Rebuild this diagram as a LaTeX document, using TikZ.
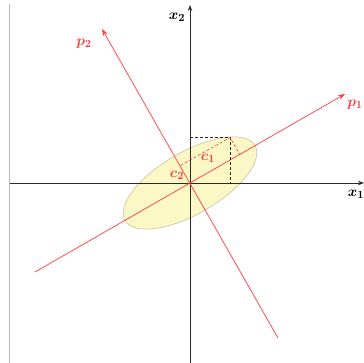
\documentclass[tikz,border=0pt]{standalone}
\usepackage{amsmath,bm}
\usetikzlibrary{arrows.meta}
\definecolor{pred}{HTML}{FF3B3B}
\definecolor{ellfill}{HTML}{FBF8C6}
\definecolor{elldraw}{HTML}{C9C49A}
\definecolor{axisc}{HTML}{2A2A2A}
\begin{document}
\begin{tikzpicture}[x=1pt,y=-1pt,
  axis/.style={draw=axisc,line width=0.9pt},
  pline/.style={draw=pred,line width=0.7pt},
  lbl/.style={inner sep=0pt,font=\fontsize{15}{17}\selectfont},
  rlbl/.style={lbl,text=pred}]
\useasboundingbox (0,0) rectangle (364,363);
% coordinates
\coordinate (O) at (190,183);
\coordinate (P) at (230,137.5);
\coordinate (Py) at (190,137.5);
\coordinate (Px) at (230,183);
\coordinate (Q1) at (240,154.5);
\coordinate (Q2) at (180.5,165.5);
% gray frame line
\draw[gray!55,line width=0.8pt] (9.5,4) -- (9.5,363);
% ellipse
\draw[fill=ellfill,draw=elldraw,line width=0.6pt] (O) ellipse[x radius=75,y radius=31,rotate=30];
% axes
\coordinate (x1s) at (10,183);
\coordinate (x1e) at (364,183);
\coordinate (x2s) at (190,363);
\coordinate (x2e) at (190,5);
\draw[axis,-{Stealth[length=6pt,width=4.5pt]}] (x1s) -- (x1e);
\draw[axis,-{Stealth[length=6pt,width=4.5pt]}] (x2s) -- (x2e);
% principal axes
\coordinate (p1s) at (35,272);
\coordinate (p1e) at (345,94);
\coordinate (p2s) at (278,338);
\coordinate (p2e) at (102,29);
\draw[pline,-{Stealth[length=7pt,width=5pt]}] (p1s) -- (p1e);
\draw[pline,-{Stealth[length=7pt,width=5pt]}] (p2s) -- (p2e);
% dashed projections
\draw[axisc,line width=0.6pt,dash pattern=on 3pt off 2pt] (Py) -- (P) -- (Px);
\draw[pred,line width=0.6pt,dash pattern=on 3pt off 2pt] (Q2) -- (P) -- (Q1);
% labels
\node[lbl] (lx1) at (356,194) {$\bm{x_1}$};
\node[lbl] (lx2) at (177,17) {$\bm{x_2}$};
\node[rlbl] (lp1) at (355,105) {$\bm{p_1}$};
\node[rlbl] (lp2) at (84,44) {$\bm{p_2}$};
\node[rlbl] (lc1) at (208,158) {$\bm{c_1}$};
\node[rlbl] (lc2) at (177,175) {$\bm{c_2}$};
\end{tikzpicture}
\end{document}
